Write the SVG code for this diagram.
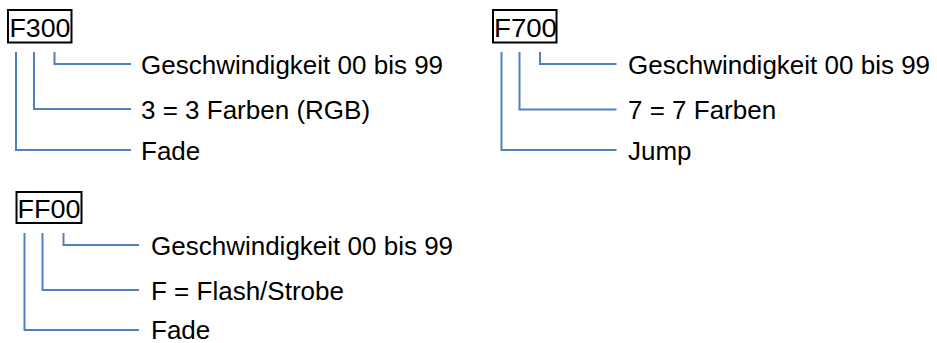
<svg xmlns="http://www.w3.org/2000/svg" width="937" height="343" viewBox="0 0 937 343">
<style>
text{font-family:"Liberation Sans",Arial,sans-serif;font-size:26px;fill:#000}
.box{fill:#fff;stroke:#000;stroke-width:2}
.c{fill:none;stroke:#4F81BD;stroke-width:2}
</style>
<rect width="937" height="343" fill="#fff"/>
<g id="connectors">
<path class="c" d="M16,52V150H131M34,52V109H131M54.5,52V64H131"/>
<path class="c" d="M501.5,52V150H616.5M519.5,52V109.5H616.5M540,52V64H616.5"/>
<path class="c" d="M24.5,233V330H139M42.5,233V290H139M63.5,233V245H139"/>
</g>
<g id="F300">
<rect class="box" x="8" y="10" width="63.5" height="32.5"/>
<text x="9.5" y="36.5" textLength="61" lengthAdjust="spacingAndGlyphs">F300</text>
</g>
<g id="F300-labels">
<text x="141" y="73.5">Geschwindigkeit 00 bis 99</text>
<text x="141" y="118.5">3 = 3 Farben (RGB)</text>
<text x="141" y="159.5">Fade</text>
</g>
<g id="F700">
<rect class="box" x="493" y="10" width="63.5" height="32.5"/>
<text x="494" y="36.5" textLength="63" lengthAdjust="spacingAndGlyphs">F700</text>
</g>
<g id="F700-labels">
<text x="628" y="73.5">Geschwindigkeit 00 bis 99</text>
<text x="628" y="118.5">7 = 7 Farben</text>
<text x="628" y="159.5">Jump</text>
</g>
<g id="FF00">
<rect class="box" x="16.5" y="192" width="65" height="31"/>
<text x="17.5" y="218" textLength="63" lengthAdjust="spacingAndGlyphs">FF00</text>
</g>
<g id="FF00-labels">
<text x="151" y="254.5">Geschwindigkeit 00 bis 99</text>
<text x="151" y="299.5">F = Flash/Strobe</text>
<text x="151" y="338.5">Fade</text>
</g>
</svg>
